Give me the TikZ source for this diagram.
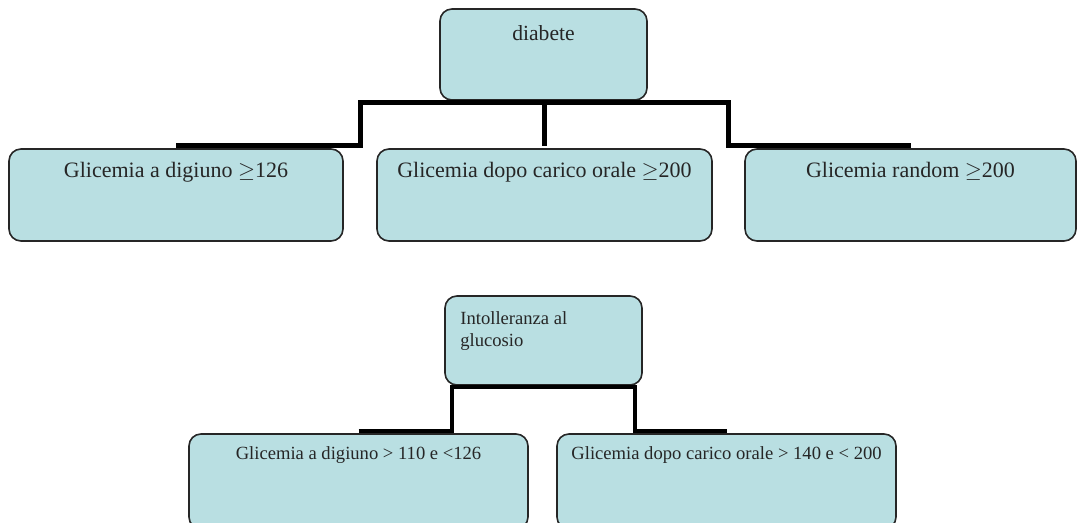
\documentclass[tikz,border=0pt]{standalone}
\usepackage{fontspec}
\setmainfont{Liberation Serif}
\definecolor{boxfill}{RGB}{185,223,226}
\tikzset{
  box/.style={draw=black!85, line width=0.8pt, fill=boxfill, rounded corners=6pt, inner sep=0pt, text=black!85},
  bigtxt/.style={font=\fontsize{11}{13}\selectfont},
  midtxt/.style={font=\fontsize{9.3}{11}\selectfont},
  smalltxt/.style={font=\fontsize{9.3}{12}\selectfont},
  link/.style={line width=2.5pt},
  sublink/.style={line width=2pt}
}

\begin{document}
\begin{tikzpicture}[x=0.5pt,y=-0.5pt]
  \useasboundingbox (0,0) rectangle (1079,523);
  \clip (0,0) rectangle (1079,523);
  % diabete
  \node [box, font=\fontsize{10.8}{13}\selectfont, minimum width=103.5pt, text height=15.75pt, text depth=29.75pt] (diab) at (543.5,54.5) {diabete};
  \node [box, bigtxt, minimum width=167pt, text height=14.5pt, text depth=31.5pt] (digiuno) at (176,195) {Glicemia a digiuno $\geq$126};
  \node [box, bigtxt, minimum width=167.5pt, text height=14.5pt, text depth=31.5pt] (carico) at (544.5,195) {Glicemia dopo carico orale $\geq$200};
  \node [box, bigtxt, minimum width=165.5pt, text height=14.5pt, text depth=31.5pt] (random) at (910.5,195) {Glicemia random $\geq$200};
  \coordinate (hubL) at (360,102.5);
  \coordinate (hubR) at (728,102.5);
  \draw [link] ([yshift=1.25pt]digiuno.north) -| (hubL) -- (hubR) |- ([yshift=1.25pt]random.north);
  \draw [link] (carico.north |- hubL) -- ([yshift=1.25pt]carico.north);
  % intolleranza
  \node [box, minimum width=98.5pt, minimum height=44.5pt] (intoll) at (543.5,340.5) {};
  \node [midtxt, anchor=north west, align=left, inner sep=0pt, text=black!85] (intoll-t) at (460,311) {Intolleranza al\\glucosio};
  \node [box, smalltxt, minimum width=169.5pt, text height=12.5pt, text depth=35pt] (digiuno2) at (358.5,481.5) {Glicemia a digiuno > 110 e <126};
  \node [box, smalltxt, minimum width=169.5pt, text height=12.5pt, text depth=35pt] (carico2) at (726.5,481.5) {Glicemia dopo carico orale > 140 e < 200};
  \coordinate (subL) at (452,387);
  \coordinate (subR) at (635,387);
  \draw [sublink] ([yshift=1pt]digiuno2.north) -| (subL) -- (subR) |- ([yshift=1pt]carico2.north);
\end{tikzpicture}
\end{document}
